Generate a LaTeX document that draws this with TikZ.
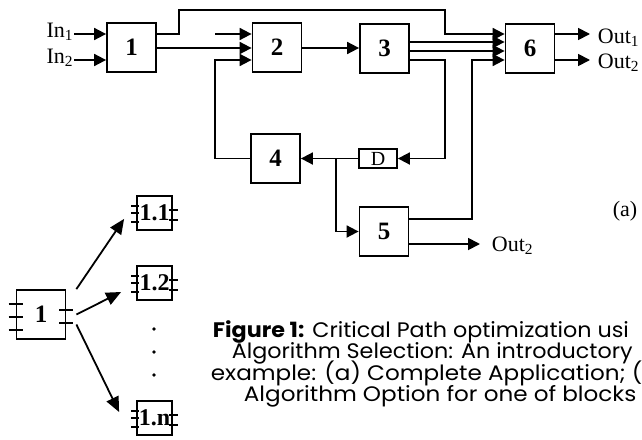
\documentclass[tikz,border=0pt]{standalone}
\usepackage{fontspec}
\setmainfont{Liberation Serif}
\newfontfamily\capfont[FakeStretch=1.1]{Poppins}
\newfontfamily\capfontn[FakeStretch=1.06]{Poppins}
\usetikzlibrary{arrows.meta}

\begin{document}
\begin{tikzpicture}[x=1pt, y=-1pt, line width=1.8pt,
    blk/.style={draw, minimum width=49pt, minimum height=49pt, inner sep=0pt, font=\fontsize{25}{25}\selectfont\bfseries},
    sub/.style={draw, minimum width=35pt, minimum height=34pt, inner sep=0pt, font=\fontsize{24}{24}\selectfont\bfseries},
    lbl/.style={inner sep=0pt, font=\fontsize{22}{22}\selectfont},
    captxt/.style={inner sep=0pt, anchor=base west, font=\capfont\fontsize{21}{21}\selectfont},
    captxtn/.style={captxt, font=\capfontn\fontsize{21}{21}\selectfont},
    arr/.style={-{Triangle[length=12pt,width=12pt]}},
    arrl/.style={-{Triangle[length=15pt,width=13pt]}}]
    \useasboundingbox (0,0) rectangle (642,439);

    % Blocks of the application
    \node[blk] (b1) at (131.5,47.5) {1};
    \node[blk] (b2) at (277,47.5) {2};
    \node[blk] (b3) at (384.5,48.5) {3};
    \node[blk] (b6) at (530,48.5) {6};
    \node[blk] (b4) at (275.5,158.5) {4};
    \node[blk] (b5) at (384,231.5) {5};
    \node[draw, minimum width=38pt, minimum height=19pt, inner sep=0pt, font=\fontsize{20}{20}\selectfont] (dl) at (378,158.5) {D};

    % Rows and bends
    \coordinate (r1) at (0,34);
    \coordinate (r2) at (0,42);
    \coordinate (r3) at (0,51);
    \coordinate (r4) at (0,60);
    \coordinate (rm) at (0,48);
    \coordinate (r5) at (0,219);
    \coordinate (r6) at (0,244);
    \coordinate (t1) at (179,10);
    \coordinate (t2) at (445,10);
    \coordinate (stub) at (215,34);
    \coordinate (fb) at (215,0);
    \coordinate (dx) at (445,0);
    \coordinate (ux) at (472,0);
    \coordinate (br) at (336,158.5);

    % Inputs and outputs
    \node[lbl, anchor=base east] (in1) at (74,37) {In\textsubscript{1}};
    \node[lbl, anchor=base east] (in2) at (74,63) {In\textsubscript{2}};
    \node[lbl, anchor=base west, inner xsep=7pt] (o1) at (590,43) {Out\textsubscript{1}};
    \node[lbl, anchor=base west, inner xsep=7pt] (o2) at (590,68) {Out\textsubscript{2}};
    \node[lbl, anchor=base west, inner xsep=11pt] (o3) at (480,251) {Out\textsubscript{2}};
    \node[lbl] (sa) at (625,211) {(a)};

    % Arrows
    \draw[arr] (in1.east |- r1) -- (b1.west |- r1);
    \draw[arr] (in2.east |- r4) -- (b1.west |- r4);
    \draw[arr] (b1.east |- r1) -| (t1) -- (t2) |- (b6.west |- r1);
    \draw[arr] (b1.east |- rm) -- (b2.west |- rm);
    \draw[arr] (stub) -- (b2.west |- r1);
    \draw[arr] (b4.west) -| (fb |- r4) -- (b2.west |- r4);
    \draw[arr] (b2.east |- rm) -- (b3.west |- rm);
    \draw[arr] (b3.east |- r2) -- (b6.west |- r2);
    \draw[arr] (b3.east |- r3) -- (b6.west |- r3);
    \draw[arr] (b3.east |- r4) -| (dx |- dl) -- (dl.east);
    \draw[arr] (dl.west) -- (b4.east);
    \draw[arr] (br) |- (b5.west);
    \draw[arr] (b5.east |- r5) -| (ux |- r4) -- (b6.west |- r4);
    \draw[arr] (b5.east |- r6) -- (o3.west |- r6);
    \draw[arr] (b6.east |- r1) -- (o1.west |- r1);
    \draw[arr] (b6.east |- r4) -- (o2.west |- r4);

    % Algorithm options of block 1
    \node[blk] (m1) at (41,314.5) {1};
    \node[sub] (s1) at (154.5,213) {1.1};
    \node[sub] (s2) at (154.5,283) {1.2};
    \node[sub] (sn) at (154.5,418) {1.n};
    \foreach \d in {10.5,-2.5,-15.5} \draw ([yshift=\d]m1.west) ++(-7,0) -- ++(14,0);
    \foreach \d in {4.5,-8.5} \draw ([yshift=\d]m1.east) ++(-7,0) -- ++(14,0);
    \foreach \s in {s1,s2,sn} {
        \foreach \d in {7,0,-9} \draw ([yshift=\d]\s.west) ++(-5,0) -- ++(8,0);
        \foreach \d in {3,-7} \draw ([yshift=\d]\s.east) ++(-4,0) -- ++(9,0);
    }
    \draw[arrl] ([xshift=10]m1.north east) -- ([xshift=-12,yshift=12]s1.south west);
    \draw[arrl] ([xshift=10]m1.east) -- ([xshift=-15,yshift=-9]s2.west);
    \draw[arrl] ([xshift=10,yshift=-10]m1.east) -- ([xshift=-17,yshift=6]sn.west);
    \foreach \y in {329,352,375} \fill (154,\y) circle (1.8pt);

    % Caption
    \node[captxtn] (c1) at (212,337) {\textbf{Figure 1:} Critical Path optimization usi};
    \node[captxtn] (c2) at (231,358.5) {Algorithm Selection: An introductory};
    \node[captxt] (c3) at (210,380) {example: (a) Complete Application; (};
    \node[captxt] (c4) at (243,401) {Algorithm Option for one of blocks};
\end{tikzpicture}
\end{document}
